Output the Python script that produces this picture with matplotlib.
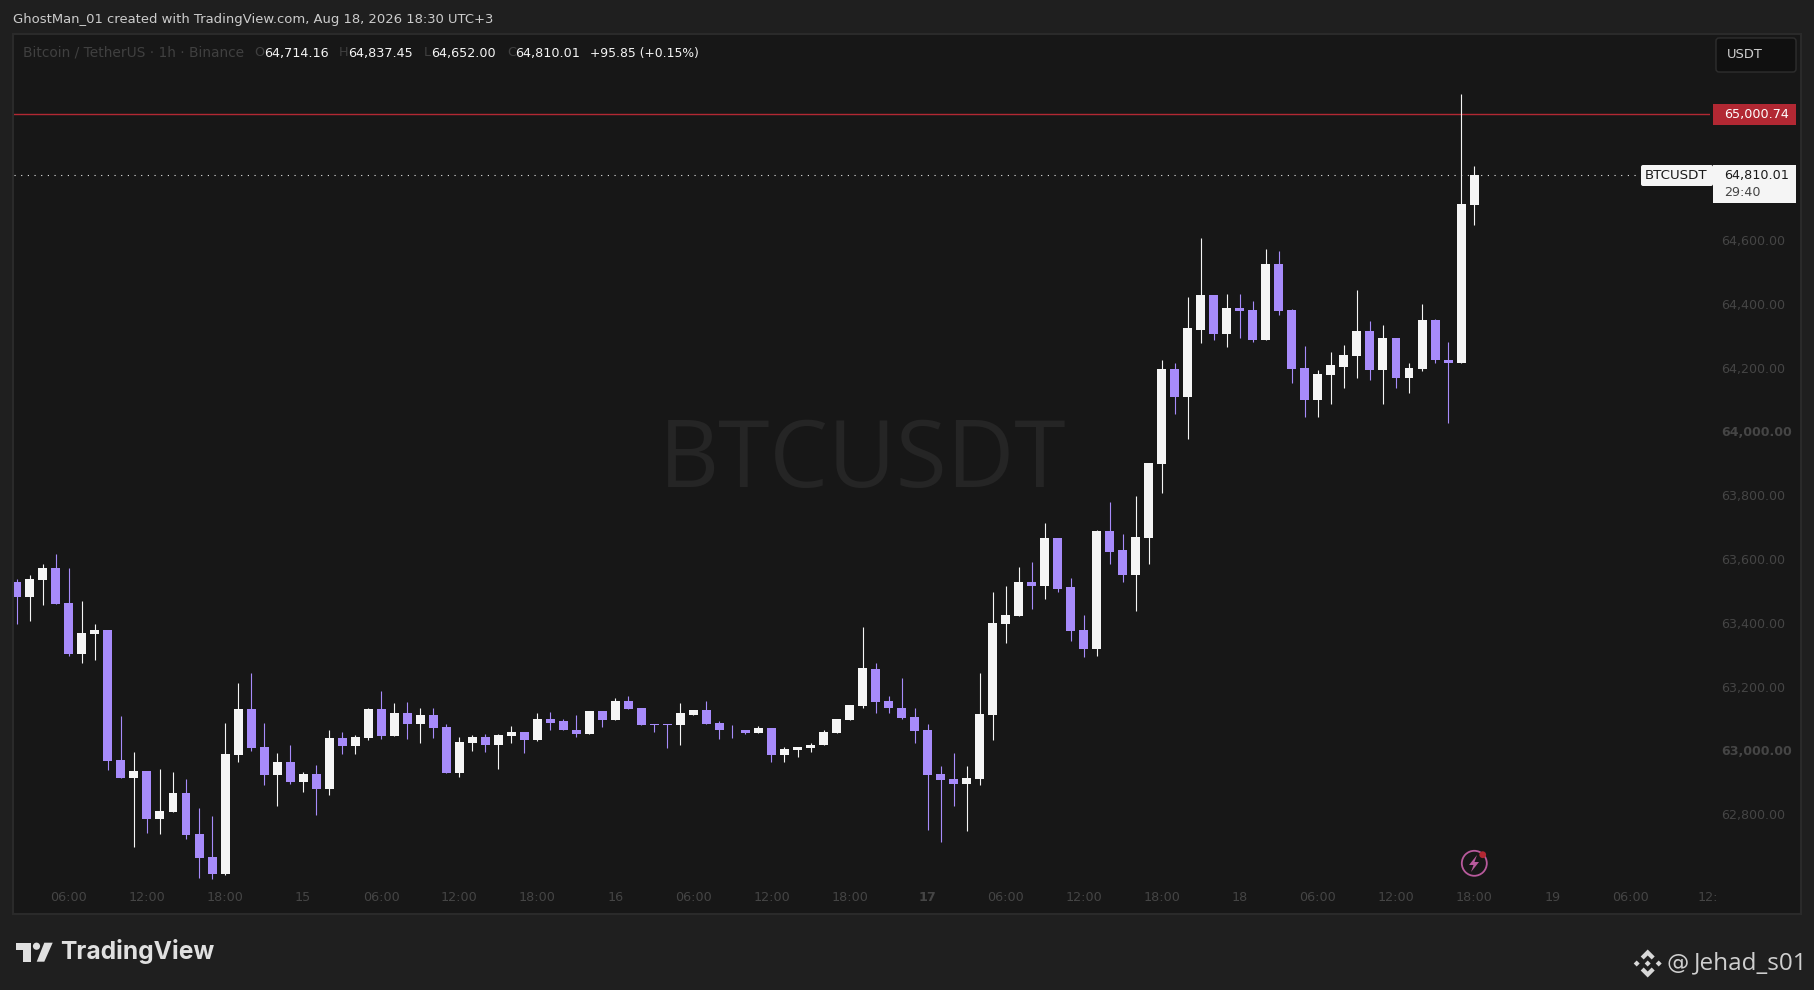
import matplotlib
matplotlib.use('Agg')
import matplotlib.pyplot as plt
from matplotlib.patches import Rectangle, Circle, Polygon, FancyBboxPatch
from matplotlib.transforms import offset_copy

# OHLC hourly candles
opens = [63531, 63487, 63538, 63575, 63466, 63306, 63368, 63381, 62973, 62917, 62939, 62788, 62810, 62870, 62741, 62669,
         62616, 62989, 63133, 63014, 62926, 62967, 62904, 62930, 62882, 63042, 63017, 63042, 63133, 63049, 63121, 63086,
         63114, 63077, 62933, 63027, 63045, 63020, 63049, 63061, 63036, 63102, 63096, 63070, 63055, 63127, 63099, 63158,
         63136, 63086, 63086, 63083, 63117, 63130, 63089, 63070, 63070, 63058, 63074, 62989, 63005, 63011, 63020, 63058,
         63099, 63143, 63259, 63158, 63139, 63108, 63067, 62929, 62914, 62898, 62914, 63114, 63400, 63425, 63531, 63519,
         63669, 63516, 63381, 63321, 63691, 63632, 63553, 63669, 63901, 64199, 64114, 64324, 64431, 64309, 64393, 64384,
         64290, 64531, 64384, 64202, 64102, 64183, 64208, 64240, 64318, 64196, 64296, 64171, 64199, 64353, 64230, 64218,
         64714.16]
highs = [63541, 63553, 63588, 63619, 63575, 63472, 63400, 63381, 63111, 62998, 62939, 62945, 62936, 62914, 62823, 62798,
         63089, 63215, 63246, 63089, 62995, 63020, 62936, 62958, 63067, 63061, 63052, 63136, 63190, 63152, 63155, 63136,
         63136, 63086, 63045, 63052, 63055, 63055, 63080, 63061, 63121, 63124, 63102, 63114, 63127, 63127, 63168, 63174,
         63139, 63086, 63086, 63152, 63130, 63158, 63096, 63083, 63070, 63080, 63074, 63014, 63014, 63027, 63070, 63102,
         63146, 63390, 63277, 63174, 63230, 63139, 63086, 62955, 62995, 62955, 63246, 63500, 63519, 63581, 63594, 63716,
         63669, 63544, 63428, 63694, 63782, 63682, 63801, 63904, 64227, 64218, 64425, 64610, 64431, 64434, 64434, 64415,
         64578, 64569, 64387, 64271, 64196, 64252, 64277, 64447, 64350, 64337, 64296, 64218, 64403, 64356, 64284, 65061,
         64837.45]
lows = [63400, 63409, 63459, 63462, 63302, 63277, 63287, 62942, 62917, 62701, 62745, 62741, 62810, 62726, 62603, 62600,
        62613, 62967, 63002, 62895, 62829, 62898, 62873, 62801, 62864, 62992, 62992, 63036, 63039, 63049, 63039, 63027,
        63042, 62933, 62920, 63002, 62998, 62945, 63027, 62995, 63033, 63067, 63067, 63045, 63055, 63077, 63099, 63133,
        63083, 63061, 63011, 63023, 63114, 63086, 63039, 63042, 63055, 63058, 62967, 62967, 62983, 62998, 63020, 63058,
        63099, 63136, 63121, 63121, 63102, 63027, 62754, 62716, 62829, 62751, 62895, 63036, 63340, 63425, 63447, 63478,
        63500, 63349, 63296, 63299, 63588, 63534, 63443, 63588, 63813, 64058, 63980, 64281, 64290, 64268, 64296, 64284,
        64290, 64368, 64155, 64049, 64049, 64089, 64140, 64171, 64165, 64089, 64140, 64124, 64193, 64218, 64030, 64218,
        64652.00]
closes = [63487, 63541, 63575, 63462, 63306, 63372, 63381, 62970, 62917, 62939, 62788, 62813, 62870, 62738, 62666, 62616,
          62992, 63133, 63011, 62926, 62967, 62904, 62930, 62882, 63042, 63017, 63045, 63133, 63049, 63121, 63086, 63114,
          63074, 62933, 63030, 63045, 63020, 63052, 63061, 63036, 63102, 63092, 63067, 63055, 63127, 63099, 63158, 63133,
          63083, 63083, 63083, 63121, 63130, 63086, 63067, 63067, 63058, 63074, 62989, 63008, 63014, 63023, 63061, 63102,
          63146, 63262, 63155, 63136, 63105, 63064, 62926, 62911, 62898, 62917, 63118, 63403, 63428, 63531, 63519, 63669,
          63512, 63378, 63321, 63691, 63628, 63553, 63672, 63904, 64199, 64114, 64328, 64431, 64309, 64393, 64381, 64290,
          64531, 64381, 64199, 64102, 64186, 64212, 64243, 64318, 64196, 64296, 64171, 64202, 64353, 64227, 64218, 64716,
          64810.01]

price_ticks = [62800, 63000, 63200, 63400, 63600, 63800, 64000, 64200, 64400, 64600]
time_labels = ['06:00', '12:00', '18:00', '15', '06:00', '12:00', '18:00', '16', '06:00', '12:00', '18:00', '17',
               '06:00', '12:00', '18:00', '18', '06:00', '12:00', '18:00', '19', '06:00', '12:']
resistance = 65000.74
last_price = 64810.01

W, H = 1815, 990
PAGE = '#1f1f1f'
PANEL = '#171717'
UP = '#f5f5f5'
DOWN = '#a78bfa'
RED = '#b22833'
GREY = '#454545'

fig = plt.figure(figsize=(W / 100, H / 100), dpi=100, facecolor=PAGE)

# pixel-space layer for the panel, watermark and logos
deco = fig.add_axes([0, 0, 1, 1], zorder=0)
deco.set_xlim(0, W)
deco.set_ylim(H, 0)
deco.axis('off')
deco.add_patch(Rectangle((13, 33.5), 1788, 880.5, facecolor=PANEL, edgecolor='#2a2a2a', linewidth=1.5))
deco.text(863, 462, 'BTCUSDT', color='#252525', fontsize=67, family='Open Sans', ha='center', va='center')

# chart axes sit over the panel
left, right, top, bottom = 14, 1710, 34, 884
ax = fig.add_axes([left / W, 1 - bottom / H, (right - left) / W, (bottom - top) / H], zorder=1)
ax.patch.set_visible(False)
for s in ax.spines.values():
    s.set_visible(False)
ax.set_xlim(-0.22, 130.134)
ax.set_ylim(62585.7, 65250.5)

x = list(range(len(opens)))
colors = [UP if c >= o else DOWN for o, c in zip(opens, closes)]
ax.vlines(x, lows, highs, colors=colors, linewidth=0.8, zorder=2)
ax.bar(x, [max(abs(c - o), 3) for o, c in zip(opens, closes)], bottom=[min(o, c) for o, c in zip(opens, closes)],
       width=0.69, color=colors, linewidth=0, zorder=3)

# levels
ax.axhline(resistance, color=RED, linewidth=1, zorder=1)
ax.axhline(last_price, xmax=0.959, color='#e8e8e8', linewidth=0.8, linestyle=(0, (1, 5)), zorder=1)

# axes ticks
ax.yaxis.tick_right()
ax.set_yticks(price_ticks)
ax.set_yticklabels([f'{p:,.2f}' for p in price_ticks])
ax.set_xticks([4 + 6 * i for i in range(len(time_labels))])
ax.set_xticklabels(time_labels)
ax.tick_params(axis='y', length=0, pad=8.2, labelsize=9.1, labelcolor=GREY)
ax.tick_params(axis='x', length=0, pad=5.2, labelsize=9.2, labelcolor=GREY)
for t, p in zip(ax.get_yticklabels(), price_ticks):
    t.set_transform(offset_copy(t.get_transform(), fig, y=1.1, units='points'))
    if p % 1000 == 0:
        t.set_fontweight('bold')
ax.get_xticklabels()[11].set_fontweight('bold')

# price labels on the right
deco.add_patch(Rectangle((1713, 104), 83, 21, facecolor=RED, edgecolor='none', zorder=4))
deco.add_patch(Rectangle((1713, 165), 83, 38, facecolor='#f5f5f5', edgecolor='none', zorder=4))
deco.add_patch(FancyBboxPatch((1643, 167), 68, 17, boxstyle='round,pad=2', facecolor='#f5f5f5', edgecolor='none', zorder=4))
deco.text(1724, 114.5, f'{resistance:,.2f}', color='white', fontsize=9.2, va='center', zorder=5)
deco.text(1724, 175.5, f'{last_price:,.2f}', color='#1a1a1a', fontsize=9.2, va='center', zorder=5)
deco.text(1724, 192, '29:40', color='#444444', fontsize=9.2, va='center', zorder=5)
deco.text(1645, 175.5, 'BTCUSDT', color='#1a1a1a', fontsize=9.6, va='center', zorder=5)

# currency button
deco.add_patch(FancyBboxPatch((1719, 41), 74, 28, boxstyle='round,pad=3', facecolor='#101010', edgecolor='#2e2e2e', linewidth=1, zorder=4))
deco.text(1727, 55, 'USDT', color='#d0d0d0', fontsize=9.4, va='center', zorder=5)

# header and legend line
deco.text(13, 19.5, 'GhostMan_01 created with TradingView.com, Aug 18, 2026 18:30 UTC+3', color='#cccccc', fontsize=9.45, va='center')
deco.text(23, 53, 'Bitcoin / TetherUS · 1h · Binance', color='#404040', fontsize=9.9, va='center')
for lx, ltr in zip([254, 339, 424, 507], 'OHLC'):
    deco.text(lx, 53, ltr, color='#404040', fontsize=9.2, va='center')
for vx, val in zip([264, 348, 431, 515], ['64,714.16', '64,837.45', '64,652.00', '64,810.01']):
    deco.text(vx, 53, val, color='#f5f5f5', fontsize=9.2, va='center')
deco.text(590, 53, '+95.85 (+0.15%)', color='#f5f5f5', fontsize=8.9, va='center')

# alert icon on the time axis
deco.add_patch(Circle((1474.3, 863.3), 12.5, facecolor='none', edgecolor='#b85a9c', linewidth=1.3))
deco.add_patch(Polygon([(1477, 855), (1469, 865), (1473.5, 865), (1471, 872), (1479, 862), (1474.5, 862)], facecolor='#b85a9c', edgecolor='none'))
deco.add_patch(Circle((1482.7, 854.7), 3.4, facecolor=RED, edgecolor='none'))

# TradingView logo
LOGO = '#e0e0e0'
deco.add_patch(Polygon([(15.7, 942.7), (30.7, 942.7), (30.7, 961.7), (23.3, 961.7), (23.3, 950), (15.7, 950)], facecolor=LOGO, edgecolor='none'))
deco.add_patch(Circle((36.5, 946.2), 3.6, facecolor=LOGO, edgecolor='none'))
deco.add_patch(Polygon([(44.3, 942.7), (52.7, 942.7), (44.3, 961.7), (36.7, 961.7)], facecolor=LOGO, edgecolor='none'))
deco.text(60, 952, 'TradingView', color=LOGO, fontsize=17.7, family='Inter', fontweight='bold', va='center')

# Binance badge and handle
cx, cy = 1647.7, 963.5
BADGE = '#d8d8d8'
deco.add_patch(Polygon([(cx, cy - 14), (cx + 7, cy - 7), (cx + 4, cy - 4), (cx, cy - 8), (cx - 4, cy - 4), (cx - 7, cy - 7)], facecolor=BADGE, edgecolor='none'))
deco.add_patch(Polygon([(cx, cy + 14), (cx + 7, cy + 7), (cx + 4, cy + 4), (cx, cy + 8), (cx - 4, cy + 4), (cx - 7, cy + 7)], facecolor=BADGE, edgecolor='none'))
deco.add_patch(Polygon([(cx - 14, cy), (cx - 11, cy - 3), (cx - 8, cy), (cx - 11, cy + 3)], facecolor=BADGE, edgecolor='none'))
deco.add_patch(Polygon([(cx + 14, cy), (cx + 11, cy - 3), (cx + 8, cy), (cx + 11, cy + 3)], facecolor=BADGE, edgecolor='none'))
deco.add_patch(Polygon([(cx, cy - 3), (cx + 3, cy), (cx, cy + 3), (cx - 3, cy)], facecolor=BADGE, edgecolor='none'))
deco.text(1667, 963, '@', color='#cfcfcf', fontsize=16, va='center')
deco.text(1694, 963, 'Jehad_s01', color='#cfcfcf', fontsize=17.5, family='Open Sans', va='center')

fig.savefig('out.png', dpi=100, facecolor=PAGE)
